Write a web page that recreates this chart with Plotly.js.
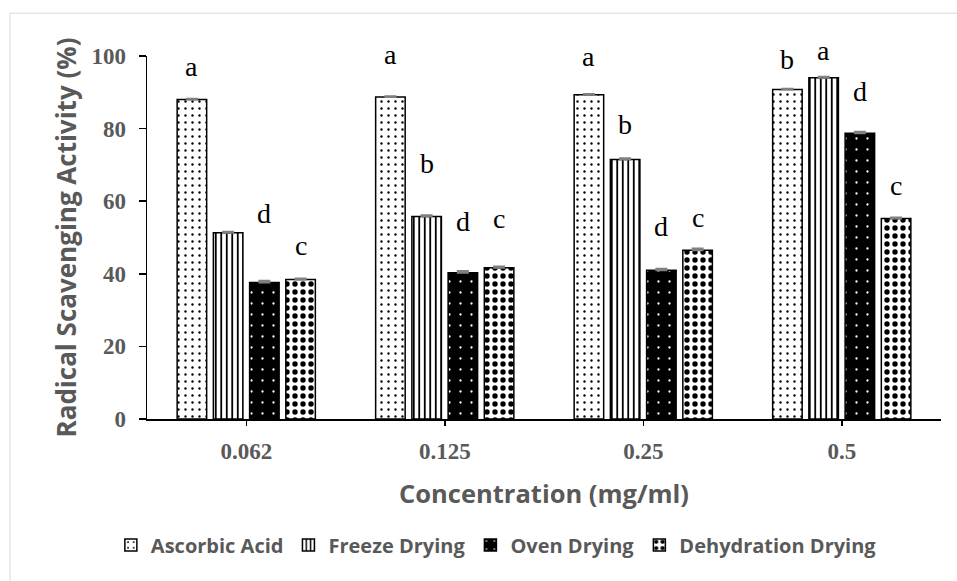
<!DOCTYPE html>
<html>
<head>
<meta charset="utf-8">
<script src="https://cdn.plot.ly/plotly-3.0.1.min.js"></script>
<style>
  html, body { margin: 0; padding: 0; background: #ffffff; }
  #chart { width: 957px; height: 581px; }
</style>
</head>
<body>
<div id="chart"></div>
<script>
// ---- data ----
var categories = ['0.062', '0.125', '0.25', '0.5'];
var seriesNames = ['Ascorbic Acid', 'Freeze Drying', 'Oven Drying', 'Dehydration Drying'];

var ascorbicAcid      = [88.0, 88.7, 89.3, 90.8];
var freezeDrying      = [51.3, 55.8, 71.5, 94.0];
var ovenDrying        = [37.6, 40.3, 41.0, 78.7];
var dehydrationDrying = [38.4, 41.7, 46.5, 55.2];

var ascorbicErr    = [0.2, 0.2, 0.2, 0.2];
var freezeErr      = [0.3, 0.3, 0.3, 0.3];
var ovenErr        = [0.5, 0.5, 0.4, 0.4];
var dehydrationErr = [0.3, 0.3, 0.5, 0.3];

// significance letters and the height (in % units) where each is written
var ascorbicLetters    = ['a', 'a', 'a', 'b'];
var ascorbicLetterY    = [97.0, 100.5, 100.0, 99.1];
var freezeLetters      = ['', 'b', 'b', 'a'];
var freezeLetterY      = [null, 70.5, 81.2, 101.6];
var ovenLetters        = ['d', 'd', 'd', 'd'];
var ovenLetterY        = [56.7, 54.5, 53.0, 90.3];
var dehydrationLetters = ['c', 'c', 'c', 'c'];
var dehydrationLetterY = [47.9, 55.1, 55.6, 64.4];

var yRange = [0, 100];
var yTickVals = [0, 20, 40, 60, 80, 100];

// ---- styling ----
var GREY = '#595959';
var BARGAP = 0.27;
var values = [ascorbicAcid, freezeDrying, ovenDrying, dehydrationDrying];
var errs = [ascorbicErr, freezeErr, ovenErr, dehydrationErr];
var letters = [ascorbicLetters, freezeLetters, ovenLetters, dehydrationLetters];
var letterY = [ascorbicLetterY, freezeLetterY, ovenLetterY, dehydrationLetterY];

var patterns = [
  {shape: '.', fgcolor: '#000000', bgcolor: '#ffffff', size: 7, solidity: 0.09, fillmode: 'replace'},
  {shape: '|', fgcolor: '#000000', bgcolor: '#ffffff', size: 5.5, solidity: 0.33, fillmode: 'replace'},
  {shape: '.', fgcolor: '#ffffff', bgcolor: '#000000', size: 11, solidity: 0.035, fillmode: 'replace'},
  {shape: '.', fgcolor: '#000000', bgcolor: '#ffffff', size: 8, solidity: 0.36, fillmode: 'replace'}
];

var traces = values.map(function (vals, i) {
  return {
    type: 'bar',
    name: seriesNames[i],
    x: categories,
    y: vals,
    marker: {
      color: i === 2 ? '#000000' : '#ffffff',
      line: {color: '#000000', width: 1.5},
      pattern: patterns[i]
    },
    error_y: {
      type: 'data', symmetric: false,
      array: errs[i], arrayminus: errs[i].map(function () { return 0; }),
      color: '#808080', thickness: 2, width: 6
    },
    hoverinfo: 'x+y+name'
  };
});

// letters: x in category units (offset to each bar of the group), y converted to the y-axis fraction
var annotations = [];
letters.forEach(function (arr, i) {
  arr.forEach(function (txt, j) {
    if (!txt) return;
    annotations.push({
      x: j + (i - 1.5) * (1 - BARGAP) / 4,
      xref: 'x',
      y: (letterY[i][j] - yRange[0]) / (yRange[1] - yRange[0]),
      yref: 'paper',
      text: txt,
      showarrow: false,
      xanchor: 'center', yanchor: 'middle',
      font: {family: 'Liberation Serif, Times New Roman, serif', size: 28, color: '#000000'}
    });
  });
});

var layout = {
  width: 957,
  height: 581,
  margin: {l: 147, r: 16, t: 56, b: 162},
  paper_bgcolor: 'rgba(0,0,0,0)',
  plot_bgcolor: 'rgba(0,0,0,0)',
  barmode: 'group',
  bargap: BARGAP,
  bargroupgap: 0.185,
  showlegend: true,
  legend: {
    orientation: 'h',
    x: 0.44, xanchor: 'center',
    y: -0.347, yanchor: 'middle',
    font: {family: 'Open Sans, sans-serif', size: 20, color: GREY, weight: 'bold'},
    itemwidth: 30,
    traceorder: 'normal'
  },
  xaxis: {
    type: 'category',
    showline: true, linecolor: '#000000', linewidth: 1.5,
    ticks: 'outside', ticklen: 5, tickcolor: '#000000', tickwidth: 1.5,
    ticklabelstandoff: 6,
    tickfont: {family: 'Liberation Serif, Times New Roman, serif', size: 23, color: GREY, weight: 'bold'},
    showgrid: false, zeroline: false,
    title: {
      text: 'Concentration (mg/ml)',
      font: {family: 'Open Sans, sans-serif', size: 25.5, color: GREY, weight: 'bold'},
      standoff: 22
    },
    automargin: false
  },
  yaxis: {
    range: yRange,
    tickvals: yTickVals,
    showline: true, linecolor: '#000000', linewidth: 1.5,
    ticks: 'outside', ticklen: 7, tickcolor: '#000000', tickwidth: 1.5,
    ticklabelstandoff: 8,
    tickfont: {family: 'Liberation Serif, Times New Roman, serif', size: 23, color: GREY, weight: 'bold'},
    showgrid: false, zeroline: false,
    title: {
      text: 'Radical Scavenging Activity (%)',
      font: {family: 'Open Sans, sans-serif', size: 26, color: GREY, weight: 'bold'},
      standoff: 7
    },
    automargin: false
  },
  annotations: annotations,
  shapes: [{
    type: 'rect', xref: 'paper', yref: 'paper',
    x0: -0.1725, x1: 1.06, y0: 1.118, y1: -0.55,
    line: {color: '#d9d9d9', width: 1},
    fillcolor: 'rgba(0,0,0,0)',
    layer: 'below'
  }]
};

Plotly.newPlot('chart', traces, layout, {displayModeBar: false, staticPlot: true});
</script>
</body>
</html>
